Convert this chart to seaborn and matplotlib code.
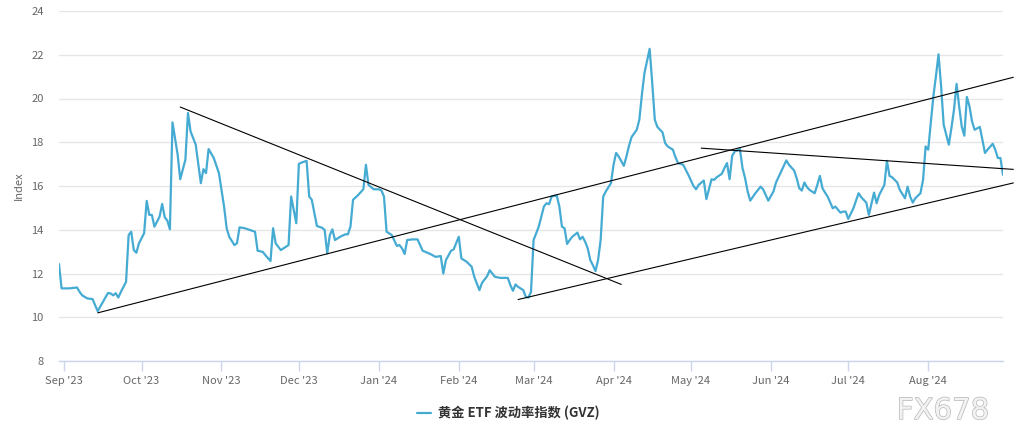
import matplotlib
matplotlib.use("Agg")
import matplotlib.pyplot as plt
import matplotlib.dates as mdates
import matplotlib.patheffects as pe
import pandas as pd
import seaborn as sns

# ---------------- data ----------------
start_date = "2023-09-01"
day_offsets = [
    -2, -1, 2, 5, 6, 7, 9, 11, 13, 15, 17, 18, 19, 20, 21, 22, 23, 24, 25, 26,
    27, 28, 29, 31, 32, 33, 34, 35, 37, 38, 39, 40, 41, 42, 44, 45, 47, 48, 49, 51,
    53, 54, 55, 56, 58, 60, 62, 63, 64, 66, 67, 68, 70, 72, 74, 75, 77, 78, 80, 81,
    82, 84, 86, 87, 88, 89, 90, 91, 92, 94, 95, 96, 98, 100, 101, 102, 103, 104, 105, 107,
    109, 110, 111, 112, 114, 116, 117, 118, 120, 122, 123, 124, 125, 127, 129, 130, 131, 132, 133, 135,
    137, 139, 142, 144, 146, 147, 148, 150, 151, 153, 154, 156, 158, 159, 161, 162, 164, 165, 167, 169,
    172, 173, 174, 175, 176, 178, 179, 180, 181, 182, 184, 185, 186, 187, 188, 189, 190, 191, 192, 193,
    194, 195, 196, 197, 199, 200, 201, 202, 203, 204, 205, 206, 207, 208, 209, 210, 212, 213, 214, 215,
    217, 218, 219, 220, 222, 223, 224, 225, 227, 228, 229, 230, 232, 233, 234, 236, 237, 238, 240, 242,
    244, 245, 246, 248, 249, 251, 252, 253, 255, 256, 257, 258, 259, 260, 262, 263, 264, 265, 266, 268,
    270, 271, 273, 275, 276, 278, 280, 281, 283, 284, 285, 286, 287, 288, 289, 291, 292, 293, 294, 295,
    296, 298, 299, 301, 302, 303, 304, 306, 308, 309, 311, 312, 314, 315, 316, 318, 319, 320, 321, 323,
    324, 326, 327, 328, 329, 330, 332, 333, 334, 335, 336, 337, 338, 339, 340, 341, 342, 343, 344, 345,
    346, 347, 348, 349, 350, 351, 352, 353, 355, 356, 357, 358, 360, 361, 362, 363, 364,
]
gvz = [
    12.43, 11.32, 11.32, 11.36, 11.16, 11.0, 10.86, 10.83, 10.28, 10.7, 11.11, 11.09, 11.0, 11.1, 10.9, 11.16, 11.39, 11.62, 13.76, 13.91,
    13.07, 12.95, 13.38, 13.84, 15.32, 14.68, 14.68, 14.14, 14.6, 15.18, 14.57, 14.42, 14.02, 18.91, 17.43, 16.31, 17.2, 19.34, 18.5, 17.89,
    16.13, 16.77, 16.59, 17.69, 17.28, 16.59, 15.06, 14.07, 13.68, 13.3, 13.38, 14.11, 14.07, 13.99, 13.91, 13.04, 12.99, 12.84, 12.57, 14.07,
    13.38, 13.07, 13.22, 13.3, 15.52, 14.91, 14.3, 17.01, 17.07, 17.15, 15.52, 15.37, 14.17, 14.09, 13.99, 12.92, 13.76, 14.02, 13.53, 13.68,
    13.79, 13.79, 14.14, 15.37, 15.59, 15.85, 16.97, 16.05, 15.85, 15.85, 15.8, 15.52, 13.91, 13.76, 13.26, 13.3, 13.15, 12.89, 13.53, 13.56,
    13.56, 13.04, 12.89, 12.76, 12.8, 12.0, 12.61, 13.04, 13.1, 13.68, 12.69, 12.54, 12.31, 11.85, 11.24, 11.57, 11.88, 12.15, 11.85, 11.8,
    11.8, 11.47, 11.21, 11.5, 11.39, 11.24, 10.93, 10.9, 11.16, 13.53, 14.14, 14.6, 15.06, 15.21, 15.17, 15.52, 15.55, 15.55, 15.06, 14.14,
    14.07, 13.35, 13.53, 13.68, 13.87, 13.56, 13.68, 13.45, 13.15, 12.61, 12.38, 12.11, 12.61, 13.53, 15.52, 15.75, 16.13, 16.97, 17.51, 17.35,
    16.92, 17.35, 17.84, 18.24, 18.57, 19.03, 20.18, 21.17, 22.27, 20.71, 19.03, 18.70, 18.45, 17.96, 17.81, 17.66, 17.32, 17.05, 16.97, 16.51,
    16.0, 15.85, 16.05, 16.25, 15.4, 16.31, 16.28, 16.4, 16.56, 16.82, 17.05, 16.31, 17.38, 17.58, 17.69, 16.82, 16.36, 15.75, 15.33, 15.67,
    15.97, 15.85, 15.33, 15.75, 16.16, 16.66, 17.17, 16.97, 16.71, 16.36, 15.90, 15.79, 16.16, 15.95, 15.82, 15.67, 16.05, 16.46, 15.9, 15.7,
    15.52, 14.98, 15.06, 14.78, 14.83, 14.83, 14.5, 14.98, 15.67, 15.49, 15.24, 14.68, 15.7, 15.21, 15.59, 16.05, 17.15, 16.46, 16.4, 16.16,
    15.82, 15.44, 15.97, 15.52, 15.24, 15.44, 15.67, 16.28, 17.81, 17.66, 18.88, 20.1, 21.02, 22.02, 20.56, 18.8, 18.34, 17.89, 18.65, 19.49,
    20.67, 19.64, 18.72, 18.3, 20.07, 19.64, 18.95, 18.57, 18.7, 18.12, 17.51, 17.66, 17.93, 17.66, 17.28, 17.28, 16.51,
]
series_name = "黄金 ETF 波动率指数 (GVZ)"
y_label = "Index"
y_ticks = [8, 10, 12, 14, 16, 18, 20, 22, 24]
x_range = ["2023-08-30", "2024-08-30"]

# hand-drawn trend lines (date, value) end points
trend_rising_dates = ["2023-09-14", "2024-09-03"]
trend_rising_vals = [10.2, 20.97]
trend_falling_dates = ["2023-10-16", "2024-04-04"]
trend_falling_vals = [19.61, 11.5]
trend_channel_dates = ["2024-02-24", "2024-09-03"]
trend_channel_vals = [10.81, 16.14]
trend_flat_dates = ["2024-05-05", "2024-09-03"]
trend_flat_vals = [17.73, 16.76]

watermark = "FX678"

# ---------------- figure ----------------
sns.set_theme(style="white")
plt.rcParams["font.family"] = ["Noto Sans CJK SC", "DejaVu Sans"]

df = pd.DataFrame({
    "date": pd.Timestamp(start_date) + pd.to_timedelta(day_offsets, unit="D"),
    "value": gvz,
})

W, H = 1022, 446
fig = plt.figure(figsize=(W / 100, H / 100), dpi=100)
ax = fig.add_axes([59 / W, 1 - 361 / H, (1003 - 59) / W, (361 - 11) / H])

line_color = "#45abd3"
sns.lineplot(data=df, x="date", y="value", ax=ax, color=line_color,
             linewidth=1.6, label=series_name)

for d, v in [(trend_rising_dates, trend_rising_vals),
             (trend_falling_dates, trend_falling_vals),
             (trend_channel_dates, trend_channel_vals),
             (trend_flat_dates, trend_flat_vals)]:
    ax.plot(pd.to_datetime(d), v, color="black", linewidth=0.8, clip_on=False, zorder=5)

ax.set_xlim(pd.to_datetime(x_range[0]), pd.to_datetime(x_range[1]))
ax.set_ylim(y_ticks[0], y_ticks[-1])
ax.set_yticks(y_ticks)
ax.yaxis.grid(True, color="#e6e6e6", linewidth=1)
ax.xaxis.grid(False)

ax.xaxis.set_major_locator(mdates.MonthLocator())
ax.xaxis.set_major_formatter(mdates.DateFormatter("%b '%y"))

for s in ["top", "right", "left"]:
    ax.spines[s].set_visible(False)
ax.spines["bottom"].set_color("#ccd6eb")
ax.spines["bottom"].set_linewidth(1)

ax.tick_params(axis="x", bottom=True, length=7, width=1, color="#ccd6eb",
               labelsize=8, labelcolor="#666666", pad=4)
ax.tick_params(axis="y", left=False, length=0, labelsize=8,
               labelcolor="#666666", pad=11)

ax.set_xlabel("")
ax.set_ylabel(y_label, color="#666666", fontsize=8, labelpad=5)

leg = ax.legend(loc="center", bbox_to_anchor=(0.497, 1 - 413 / H),
                bbox_transform=fig.transFigure, frameon=False,
                handlelength=1.1, handletextpad=0.5,
                prop={"weight": "bold", "size": 9.5,
                      "family": ["Noto Sans CJK SC", "DejaVu Sans"]})
for t in leg.get_texts():
    t.set_color("#333333")

fig.text(943 / W, 1 - 411 / H, watermark, ha="center", va="center",
         fontsize=21, color="#f2f2f2", family=["DejaVu Sans"],
         path_effects=[pe.withStroke(linewidth=1.0, foreground="#b8b8b8")])

fig.savefig("out.png", dpi=100)
